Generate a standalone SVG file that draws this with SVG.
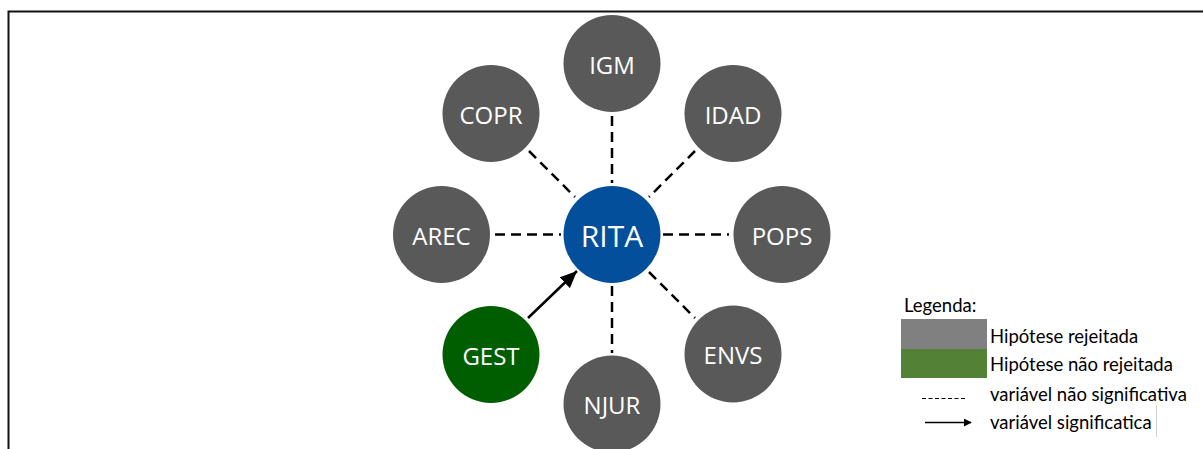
<svg xmlns="http://www.w3.org/2000/svg" width="1203" height="449" viewBox="0 0 1203 449">
<defs>
<style>
.node{fill:#595959}
.lbl{fill:#ffffff;font-family:"Open Sans","Noto Sans",sans-serif;font-size:24px;text-anchor:middle}
.dash{stroke:#000;stroke-width:2.5;stroke-dasharray:10 6;fill:none}
.leg{fill:#000;font-family:"Lato","Liberation Sans",sans-serif;font-size:18.5px}
</style>
<marker id="ah" viewBox="0 0 10 10" refX="9" refY="5" markerWidth="8" markerHeight="8" markerUnits="userSpaceOnUse" orient="auto">
<path d="M0,0 L10,5 L0,10 z" fill="#000"/>
</marker>
<marker id="ahBig" viewBox="0 0 10 10" refX="10" refY="5" markerWidth="17" markerHeight="15" markerUnits="userSpaceOnUse" orient="auto" preserveAspectRatio="none">
<path d="M0,0 L10,5 L0,10 z" fill="#000"/>
</marker>
</defs>
<rect width="1203" height="449" fill="#fff"/>
<path d="M8.5,449 V11.5 H1203" fill="none" stroke="#111" stroke-width="2"/>
<g id="connectors">
<line class="dash" x1="612" y1="116" x2="612" y2="183"/>
<line class="dash" x1="612" y1="286" x2="612" y2="353"/>
<line class="dash" x1="495" y1="234.5" x2="561" y2="234.5"/>
<line class="dash" x1="663" y1="234.5" x2="729" y2="234.5"/>
<line class="dash" x1="529" y1="151" x2="575" y2="197"/>
<line class="dash" x1="695" y1="151" x2="649" y2="197"/>
<line class="dash" x1="649" y1="272" x2="695" y2="318"/>
<line x1="528" y1="318" x2="577" y2="271" stroke="#000" stroke-width="2.5" marker-end="url(#ahBig)"/>
</g>
<g id="RITA"><circle cx="612" cy="234.5" r="48.5" fill="#034f9b"/><text class="lbl" x="612" y="246.5" style="font-size:30px">RITA</text></g>
<g id="IGM"><circle class="node" cx="612" cy="63.5" r="48.5"/><text class="lbl" x="612" y="73.5">IGM</text></g>
<g id="IDAD"><circle class="node" cx="733" cy="113.5" r="48.5"/><text class="lbl" x="733" y="123.5">IDAD</text></g>
<g id="POPS"><circle class="node" cx="782" cy="234.5" r="48.5"/><text class="lbl" x="782" y="244.5">POPS</text></g>
<g id="ENVS"><circle class="node" cx="733" cy="354" r="48.5"/><text class="lbl" x="733" y="364">ENVS</text></g>
<g id="NJUR"><circle class="node" cx="612" cy="404" r="48.5"/><text class="lbl" x="612" y="414">NJUR</text></g>
<g id="GEST"><circle cx="491" cy="354.5" r="48.5" fill="#005e00"/><text class="lbl" x="491" y="364.5">GEST</text></g>
<g id="AREC"><circle class="node" cx="441.5" cy="234.5" r="48.5"/><text class="lbl" x="441.5" y="244.5">AREC</text></g>
<g id="COPR"><circle class="node" cx="491" cy="113.5" r="48.5"/><text class="lbl" x="491" y="123.5">COPR</text></g>
<g id="legend">
<text class="leg" x="904" y="312">Legenda:</text>
<rect x="901" y="319" width="86" height="30" fill="#808080"/>
<rect x="901" y="349" width="86" height="29" fill="#538135"/>
<text class="leg" x="990" y="343">Hipótese rejeitada</text>
<text class="leg" x="990" y="371">Hipótese não rejeitada</text>
<line x1="922" y1="398.5" x2="967" y2="398.5" stroke="#000" stroke-width="1.2" stroke-dasharray="4 2.5"/>
<text class="leg" x="990" y="401">variável não significativa</text>
<line x1="925" y1="422.5" x2="971" y2="422.5" stroke="#000" stroke-width="1.5" marker-end="url(#ah)"/>
<text class="leg" x="990" y="429">variável significatica</text>
<line x1="1156.5" y1="405" x2="1156.5" y2="437" stroke="#d0d0d0" stroke-width="1"/>
</g>
</svg>
